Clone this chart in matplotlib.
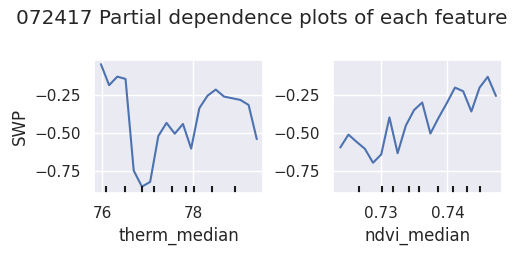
import numpy as np
import matplotlib
matplotlib.use("Agg")
import matplotlib.pyplot as plt
import seaborn as sns

sns.set_theme()

# partial dependence values
therm_x = np.linspace(75.97, 79.40, 20)
therm_pd = [-0.048, -0.186, -0.130, -0.145, -0.748, -0.853, -0.822, -0.520, -0.434, -0.505,
            -0.441, -0.603, -0.337, -0.255, -0.215, -0.261, -0.272, -0.283, -0.316, -0.541]
therm_deciles = [76.08, 76.50, 76.87, 77.14, 77.54, 77.85, 78.01, 78.42, 78.92]

ndvi_x = np.linspace(0.72390, 0.74729, 20)
ndvi_pd = [-0.596, -0.511, -0.559, -0.604, -0.696, -0.641, -0.398, -0.633, -0.452, -0.350,
           -0.300, -0.504, -0.400, -0.304, -0.202, -0.226, -0.359, -0.202, -0.131, -0.257]
ndvi_deciles = [0.72664, 0.73015, 0.7318, 0.73424, 0.7357, 0.7386, 0.7408, 0.7430, 0.7449]

fig = plt.figure(figsize=(5.17, 2.56), dpi=100)
ax1 = fig.add_axes([0.182, 0.246, 0.327, 0.520])
ax2 = fig.add_axes([0.644, 0.246, 0.327, 0.520])

for ax, x, y, dec, name, xt in [
        (ax1, therm_x, therm_pd, therm_deciles, 'therm_median', [76, 78]),
        (ax2, ndvi_x, ndvi_pd, ndvi_deciles, 'ndvi_median', [0.73, 0.74])]:
    ax.plot(x, y, color='#4c72b0', lw=1.5)
    ax.vlines(dec, 0, 0.05, colors='k', lw=1.5, transform=ax.get_xaxis_transform())
    ax.set_ylim(-0.895, -0.02)
    ax.set_yticks([-0.25, -0.5, -0.75])
    ax.set_xticks(xt)
    ax.set_xlabel(name)

ax1.set_xlim(75.82, 79.54)
ax2.set_xlim(0.7228, 0.7482)
ax1.set_ylabel('SWP')

fig.suptitle('072417 Partial dependence plots of each feature', fontsize=14.4, x=0.507, y=0.965)

fig.savefig('out.png', dpi=100)
